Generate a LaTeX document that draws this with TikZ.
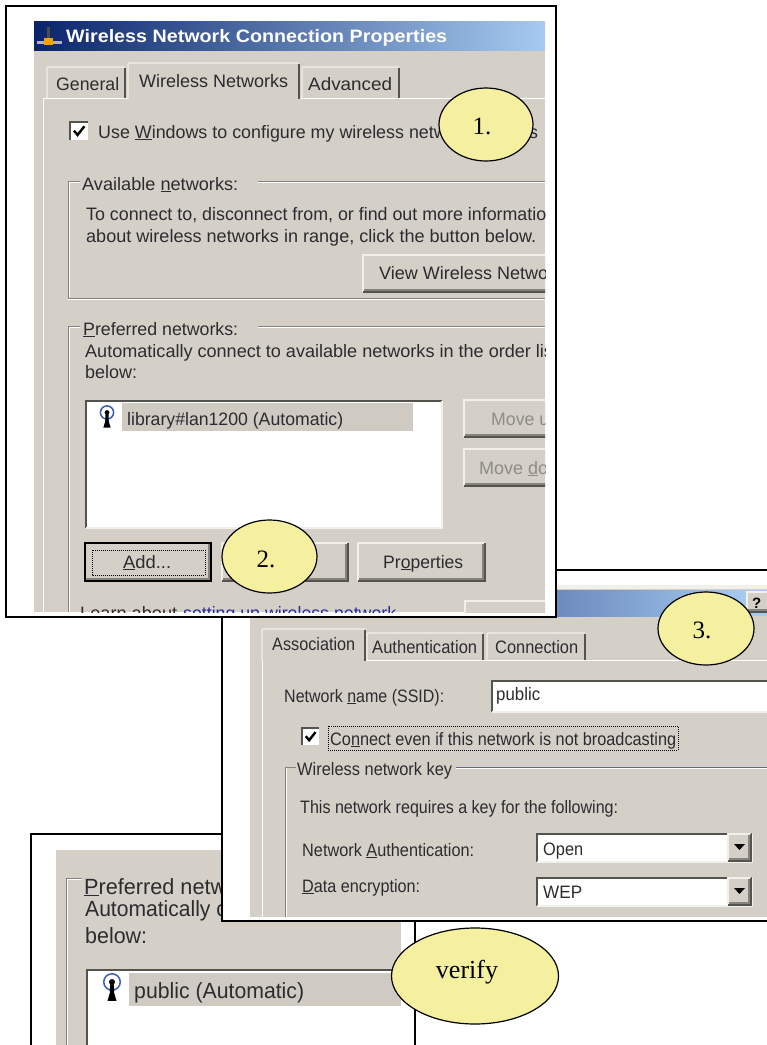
\documentclass[tikz,border=0pt]{standalone}
\usepackage{fontspec}
\usepackage{graphicx}
\usetikzlibrary{shapes.geometric}
\setmainfont{Liberation Sans}
\newfontfamily\serifnote{Liberation Serif}
\definecolor{face}{HTML}{D4D0C8}
\definecolor{shadowc}{HTML}{55534E}
\definecolor{midc}{HTML}{85837E}
\definecolor{lightc}{HTML}{F2F0EA}
\definecolor{inkc}{HTML}{2C2C30}
\definecolor{notec}{HTML}{F5F0A0}
\definecolor{titledark}{HTML}{0A246A}
\definecolor{titlelight}{HTML}{A6CAF0}
\definecolor{selc}{HTML}{CFCBC3}
\definecolor{linkc}{HTML}{2A2AA0}
\definecolor{ghost}{HTML}{8E8C87}
\definecolor{ringc}{HTML}{3A5FB5}
\tikzset{
  frameline/.style={draw=black,line width=2pt,fill=white},
  callout/.style={draw=black,line width=1.2pt,fill=notec},
  calloutlabel/.style={anchor=base,inner sep=0pt,text=black,font=\serifnote\fontsize{25}{25}\selectfont},
  verifylabel/.style={calloutlabel,font=\serifnote\fontsize{26}{26}\selectfont},
  txt/.style={anchor=base west,inner sep=0pt,text=inkc,font=\fontsize{18}{18}\selectfont},
  bigtxt/.style={txt,font=\fontsize{22}{22}\selectfont},
  greytxt/.style={txt,text=ghost},
  panel/.style={fill=face,draw=none},
  groove/.style={draw=midc,line width=1pt},
  grooveh/.style={draw=white,line width=.8pt},
  focusbox/.style={draw=black,line width=.8pt,dash pattern=on 1pt off 1pt}
}
% text fitted to a measured width
\newcommand\tx[6][txt]{\node[#1] (#2) at (#3,#4) {\resizebox{#5pt}{\height}{#6}};}
% raised control: x1 y1 x2 y2
\newcommand\raised[4]{%
  \fill[face] (#1,#2) rectangle (#3,#4);
  \draw[draw=lightc,line width=1.4pt] (#1,#4) -- (#1,#2) -- (#3,#2);
  \draw[draw=midc,line width=1.2pt] (#1+1,#4-2) -- (#3-2,#4-2) -- (#3-2,#2+1);
  \draw[draw=shadowc,line width=1.4pt] (#1,#4) -- (#3,#4) -- (#3,#2);
}
% raised tab
\newcommand\wintab[4]{%
  \fill[face] (#1,#2) rectangle (#3,#4);
  \draw[draw=lightc,line width=1.4pt] (#1,#4) -- (#1,#2+1) -- (#1+1,#2) -- (#3-1,#2);
  \draw[draw=shadowc,line width=1.6pt] (#3-1,#2+1) -- (#3-1,#4);
}
% sunken field
\newcommand\sunken[4]{%
  \fill[white] (#1,#2) rectangle (#3,#4);
  \draw[draw=shadowc,line width=1.6pt] (#1,#4) -- (#1,#2) -- (#3,#2);
  \draw[draw=lightc,line width=1.2pt] (#1,#4) -- (#3,#4) -- (#3,#2);
}
% wireless antenna icon: centre of ring x y, scale
\newcommand\antenna[3]{%
  \draw[draw=ringc,line width=1.5pt] (#1,#2) circle[radius=6.6*#3];
  \fill[black] (#1,#2) circle[radius=2.4*#3];
  \fill[black] (#1-1.4*#3,#2) -- (#1+1.4*#3,#2) -- (#1+1.8*#3,#2+9*#3) -- (#1+3.6*#3,#2+15*#3) -- (#1-3.6*#3,#2+15*#3) -- (#1-1.8*#3,#2+9*#3) -- cycle;
}
% check box
\newcommand\checkbox[3]{%
  \fill[white] (#1,#2) rectangle (#1+#3,#2+#3);
  \draw[draw=shadowc,line width=1.6pt] (#1,#2+#3) -- (#1,#2) -- (#1+#3,#2);
  \draw[black,line width=2.4pt] (#1+.22*#3,#2+.48*#3) -- (#1+.42*#3,#2+.72*#3) -- (#1+.8*#3,#2+.24*#3);
}
% combo arrow
\newcommand\comboarrow[2]{%
  \raised{#1}{#2}{#1+23}{#2+27}
  \fill[black] (#1+6,#2+10) -- (#1+17,#2+10) -- (#1+11.5,#2+16) -- cycle;
}
\begin{document}
\begin{tikzpicture}[x=1pt,y=-1pt]
\useasboundingbox (0,0) rectangle (767,1045);
\fill[white] (0,0) rectangle (767,1045);

% ---------- bottom frame
\draw[frameline] (31,1060) -- (31,834) -- (415,834) -- (415,1060);
\begin{scope}
  \clip (56,850) rectangle (401,1045);
  \fill[panel] (56,850) rectangle (401,1045);
  \draw[groove] (82,878) -- (66,878) -- (66,1050);
  \draw[grooveh] (67,879) -- (82,879);
  \draw[grooveh] (67,879) -- (67,1050);
  \tx[bigtxt]{p4a}{84}{894}{189}{\underline{P}referred networks:}
  \tx[bigtxt]{p4b}{85}{916}{205}{Automatically connect}
  \tx[bigtxt]{p4c}{85}{943}{62}{below:}
  \fill[white] (87,970) rectangle (401,1045);
  \draw[draw=shadowc,line width=1.6pt] (87,1050) -- (87,970) -- (401,970);
  \fill[selc] (129,973) rectangle (401,1006);
  \tx[bigtxt]{p4d}{134}{998}{170}{public (Automatic)}
  \antenna{112}{982}{1.25}
\end{scope}

% ---------- frame 3
\draw[frameline] (222,570) rectangle (790,921);
\begin{scope}
  \clip (250,585) rectangle (767,917);
  \fill[panel] (250,585) rectangle (767,917);
  \fill[lightc] (250,585) rectangle (767,589);
  \shade[left color=titledark,right color=titlelight,shading angle=90] (250,590) rectangle (745,616);
  \fill[titlelight] (745,590) rectangle (767,616);
  \raised{747}{592}{770}{612}
  \node[txt,font=\bfseries\fontsize{15}{15}\selectfont,text=black] (helpq) at (752,608) {?};
  \draw[grooveh] (262,660) -- (767,660);
  \draw[grooveh] (262,660) -- (262,917);
  \wintab{367}{633}{484}{660}
  \wintab{487}{633}{586}{660}
  \wintab{262}{629}{366}{661}
  \tx{t3a}{272}{650}{83}{Association}
  \tx{t3b}{372}{653}{105}{Authentication}
  \tx{t3c}{495}{653}{83}{Connection}
  \tx{t3d}{284}{702}{160}{Network \underline{n}ame (SSID):}
  \sunken{492}{681}{775}{712}
  \tx{t3e}{496}{700}{44}{public}
  \checkbox{302}{728}{17}
  \draw[focusbox] (328,726) rectangle (678,750);
  \tx{t3f}{330}{745}{346}{Co\underline{n}nect even if this network is not broadcasting}
  \draw[draw=midc,line width=1pt] (296,767) -- (285,767) -- (285,917);
  \draw[grooveh] (286,768) -- (286,917);
  \draw[draw=blue!25!midc,line width=1pt] (456,767) -- (767,767);
  \draw[grooveh] (456,768) -- (767,768);
  \tx{t3g}{297}{775}{155}{Wireless network key}
  \tx{t3h}{300}{813}{318}{This network requires a key for the following:}
  \tx{t3i}{302}{856}{172}{Network \underline{A}uthentication:}
  \sunken{537}{834}{752}{862}
  \comboarrow{728}{834}
  \tx{t3j}{543}{855}{40}{Open}
  \tx{t3k}{302}{892}{118}{\underline{D}ata encryption:}
  \sunken{537}{878}{752}{906}
  \comboarrow{728}{878}
  \tx{t3l}{543}{898}{39}{WEP}
\end{scope}

% ---------- top frame
\draw[frameline] (6,6) rectangle (556,617);
\begin{scope}
  \clip (34,21) rectangle (545,612);
  \fill[panel] (34,21) rectangle (545,612);
  \shade[left color=titledark,right color=titlelight,shading angle=90] (34,21) rectangle (545,50);
  % title icon
  \fill[gray!60] (37,41) rectangle (62,44);
  \fill[black!70] (47,27) rectangle (50,41);
  \fill[orange!75!yellow] (44,38) rectangle (53,45);
  \node[txt,text=white,font=\bfseries\fontsize{18}{18}\selectfont] (title1) at (66,42) {\resizebox{381pt}{\height}{Wireless Network Connection Properties}};
  % panel
  \draw[grooveh] (43,98) -- (545,98);
  \draw[grooveh] (43,98) -- (43,612);
  \wintab{47}{67}{126}{98}
  \wintab{302}{67}{400}{98}
  \wintab{128}{63}{300}{99}
  \tx{t1a}{56}{90}{63}{General}
  \tx{t1b}{139}{87}{149}{Wireless Networks}
  \tx{t1c}{308}{90}{84}{Advanced}
  \checkbox{70}{122}{18}
  \tx{t1d}{98}{138}{440}{Use \underline{W}indows to configure my wireless network settings}
  % available group
  \draw[groove] (80,181) -- (68,181) -- (68,298) -- (545,298);
  \draw[grooveh] (69,182) -- (80,182);
  \draw[grooveh] (69,182) -- (69,297);
  \draw[grooveh] (68,299) -- (545,299);
  \draw[groove] (258,181) -- (545,181);
  \draw[grooveh] (258,182) -- (545,182);
  \tx{t1e}{82}{190}{156}{Available \underline{n}etworks:}
  \tx{t1f}{86}{220}{470}{To connect to, disconnect from, or find out more information}
  \tx{t1g}{86}{242}{450}{about wireless networks in range, click the button below.}
  \raised{363}{255}{570}{292}
  \tx{t1h}{379}{279}{193}{View Wireless Networks}
  % preferred group
  \draw[groove] (80,326) -- (68,326) -- (68,612);
  \draw[grooveh] (69,327) -- (80,327);
  \draw[grooveh] (69,327) -- (69,612);
  \draw[groove] (258,326) -- (545,326);
  \draw[grooveh] (258,327) -- (545,327);
  \tx{t1i}{83}{335}{155}{\underline{P}referred networks:}
  \tx{t1j}{85}{357}{493}{Automatically connect to available networks in the order listed}
  \tx{t1k}{85}{378}{52}{below:}
  \sunken{86}{401}{442}{528}
  \fill[selc] (122,403) rectangle (413,431);
  \tx{t1l}{127}{425}{216}{library\#lan1200 (Automatic)}
  \antenna{107}{412.5}{1}
  \raised{464}{400}{570}{437}
  \tx[greytxt]{t1m}{491}{425}{68}{Move up}
  \raised{464}{449}{570}{486}
  \tx[greytxt]{t1n}{479}{474}{92}{Move \underline{d}own}
  \raised{222}{543}{348}{581}
  \raised{85}{543}{211}{581}
  \draw[draw=black,line width=1.4pt] (85,543) rectangle (211,581);
  \draw[focusbox] (92,550) rectangle (205,575);
  \tx{t1o}{123}{568}{48}{\underline{A}dd...}
  \raised{358}{543}{485}{581}
  \tx{t1p}{383}{568}{80}{Pr\underline{o}perties}
  \tx{t1q}{80}{619}{97}{Learn about}
  \tx[txt,text=linkc]{t1r}{183}{619}{213}{setting up wireless network}
  \raised{465}{601}{570}{640}
\end{scope}

% ---------- callouts
\node[callout,ellipse,minimum width=94pt,minimum height=73pt,inner sep=0pt] (c1) at (486,124.5) {};
\node[calloutlabel] (c1t) at (482,134) {1.};
\node[callout,ellipse,minimum width=95pt,minimum height=73pt,inner sep=0pt] (c2) at (269.5,556.5) {};
\node[calloutlabel] (c2t) at (266,567) {2.};
\node[callout,ellipse,minimum width=96pt,minimum height=73pt,inner sep=0pt] (c3) at (706,628.5) {};
\node[calloutlabel] (c3t) at (702,638) {3.};
\node[callout,ellipse,minimum width=167pt,minimum height=96pt,inner sep=0pt] (c4) at (475,976) {};
\node[verifylabel] (c4t) at (467,978) {verify};
\end{tikzpicture}
\end{document}
